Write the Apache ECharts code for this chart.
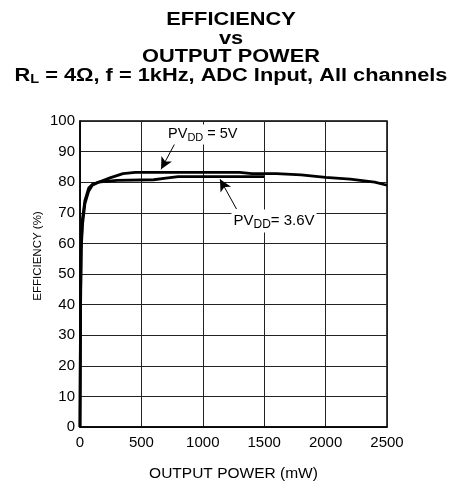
<!DOCTYPE html>
<html>
<head>
<meta charset="utf-8">
<script src="https://cdn.jsdelivr.net/npm/echarts@6/dist/echarts.min.js"></script>
<style>
  html, body { margin: 0; padding: 0; background: #fff; }
  #chart { width: 453px; height: 481px; }
</style>
</head>
<body>
<div id="chart"></div>
<script>
// data (output power mW, efficiency %)
const power5v = [0, 5, 10, 20, 40, 70, 100, 150, 250, 350, 450, 800, 1300, 1400, 1600, 1800, 2000, 2200, 2400, 2500]
const eff5v = [0, 40, 58, 66, 73, 77, 79, 80, 81.5, 82.8, 83.2, 83.2, 83.2, 82.8, 82.8, 82.4, 81.6, 81, 80, 79]
const power36v = [0, 5, 10, 20, 40, 70, 100, 150, 300, 600, 700, 800, 1500]
const eff36v = [0, 45, 60, 68, 74, 78, 79.3, 80, 80.6, 80.8, 81.3, 81.8, 81.8]
const xTicks = [0, 500, 1000, 1500, 2000, 2500]

const font = 'Liberation Sans, Arial, sans-serif'

function pairs(xs, ys) {
  return xs.map((x, i) => [x, ys[i]])
}

const chart = echarts.init(document.getElementById('chart'))

// the original title is set in a horizontally stretched bold face
const titleStyle = { fontFamily: font, fontSize: 18, fontWeight: 'bold', fill: '#000', lineHeight: 18.5 }

chart.setOption({
  animation: false,
  graphic: [{
    type: 'text',
    x: 231,
    y: 11,
    scaleX: 1.21,
    silent: true,
    style: Object.assign({}, titleStyle, {
      text: 'EFFICIENCY\nvs\nOUTPUT POWER\n{t|R}{s|L}{t| = 4Ω, f = 1kHz, ADC Input, All channels}',
      align: 'center',
      verticalAlign: 'top',
      rich: {
        t: titleStyle,
        s: { fontFamily: font, fontSize: 12, fontWeight: 'bold', fill: '#000', padding: [8, 0, 0, 0] }
      }
    })
  }],
  grid: {
    left: 80,
    right: 66,
    top: 121,
    bottom: 54,
    outerBoundsMode: 'none',
    containLabel: false,
    show: true,
    borderColor: '#000',
    borderWidth: 1.5
  },
  xAxis: {
    type: 'value',
    min: 0,
    max: 2500,
    interval: 500,
    name: 'OUTPUT POWER (mW)',
    nameLocation: 'middle',
    nameGap: 39,
    nameMoveOverlap: false,
    nameTextStyle: { fontFamily: font, fontSize: 15.5, color: '#000' },
    axisLine: { show: true, lineStyle: { color: '#000', width: 1.5 } },
    axisTick: { show: false },
    axisLabel: {
      fontFamily: font, fontSize: 15, color: '#000', margin: 8,
      formatter: v => xTicks.includes(v) ? String(v) : ''
    },
    splitLine: { show: true, lineStyle: { color: '#222', width: 1 } }
  },
  yAxis: {
    type: 'value',
    min: 0,
    max: 100,
    interval: 10,
    name: 'EFFICIENCY (%)',
    nameLocation: 'middle',
    nameGap: 36,
    nameMoveOverlap: false,
    nameRotate: 90,
    nameTextStyle: { fontFamily: font, fontSize: 11.5, color: '#000', padding: [0, 0, 0, 36] },
    axisLine: { show: true, lineStyle: { color: '#000', width: 1.5 } },
    axisTick: { show: false },
    axisLabel: { fontFamily: font, fontSize: 15, color: '#000', margin: 5 },
    splitLine: { show: true, lineStyle: { color: '#222', width: 1 } }
  },
  series: [
    {
      name: 'PVDD = 5V',
      type: 'line',
      data: pairs(power5v, eff5v),
      showSymbol: false,
      lineStyle: { color: '#000', width: 2.8 },
      z: 3,
      markLine: {
        silent: true,
        symbol: ['none', 'arrow'],
        symbolSize: [9, 12],
        label: { show: false },
        lineStyle: { color: '#000', width: 1, type: 'solid' },
        data: [[{ coord: [780, 93.2] }, { coord: [660, 84.2] }]]
      },
      markPoint: {
        silent: true,
        symbol: 'rect',
        symbolSize: 0,
        label: {
          show: true,
          position: 'inside',
          backgroundColor: '#fff',
          padding: [1, 2, 1, 2],
          fontFamily: font, fontSize: 14.5, color: '#000',
          formatter: 'PV{s|DD} = 5V',
          rich: { s: { fontFamily: font, fontSize: 11, color: '#000', padding: [7, 0, 0, 0] } }
        },
        data: [{ coord: [1000, 95.6] }]
      }
    },
    {
      name: 'PVDD = 3.6V',
      type: 'line',
      data: pairs(power36v, eff36v),
      showSymbol: false,
      lineStyle: { color: '#000', width: 2.8 },
      z: 3,
      markLine: {
        silent: true,
        symbol: ['none', 'arrow'],
        symbolSize: [9, 12],
        label: { show: false },
        lineStyle: { color: '#000', width: 1, type: 'solid' },
        data: [[{ coord: [1275, 71.2] }, { coord: [1140, 81] }]]
      },
      markPoint: {
        silent: true,
        symbol: 'rect',
        symbolSize: 0,
        label: {
          show: true,
          position: 'inside',
          backgroundColor: '#fff',
          padding: [2, 2, 2, 2],
          fontFamily: font, fontSize: 15, color: '#000',
          formatter: 'PV{s|DD}= 3.6V',
          rich: { s: { fontFamily: font, fontSize: 12, color: '#000', padding: [7, 0, 0, 0] } }
        },
        data: [{ coord: [1580, 67.3] }]
      }
    }
  ]
})
</script>
</body>
</html>
